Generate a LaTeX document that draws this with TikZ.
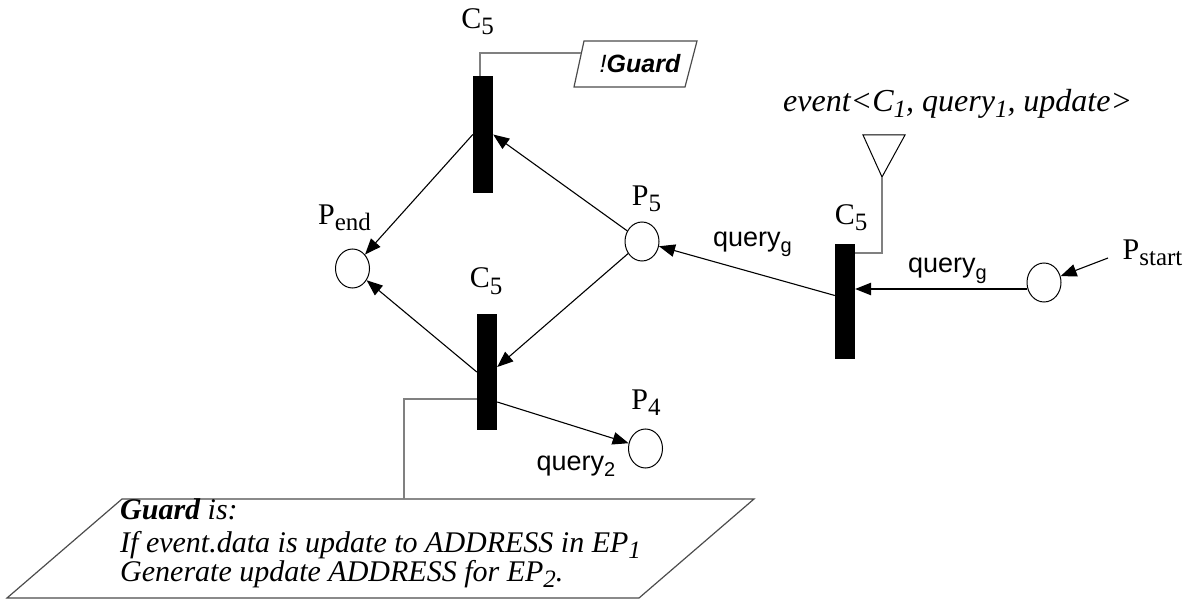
\documentclass[tikz,border=0pt]{standalone}
\usepackage{fontspec}
\setmainfont{Liberation Serif}
\setsansfont{Liberation Sans}
\usepackage{graphicx}
\usetikzlibrary{arrows.meta,calc,shapes.geometric}
\newcommand\lo[2]{\raisebox{-6pt}{\fontsize{#1}{#1}\selectfont #2}}
\begin{document}
\begin{tikzpicture}[x=1pt,y=-1pt,
  trans/.style={fill=black,draw=none,minimum width=20pt,inner sep=0pt},
  place/.style={ellipse,draw,line width=1pt,minimum width=34pt,minimum height=39pt,inner sep=0pt},
  arr/.style={line width=1.1pt,-{Triangle[length=16pt,width=12.5pt]}},
  gline/.style={draw=gray,line width=1.2pt},
  gbox/.style={draw=black!70,line width=1.2pt},
  lbl/.style={font=\fontsize{30}{30}\selectfont,inner sep=0pt},
  slbl/.style={font=\sffamily\fontsize{27}{27}\selectfont,inner sep=0pt},
  gtxt/.style={font=\itshape\fontsize{30}{30}\selectfont,inner sep=0pt,anchor=base west}]
\useasboundingbox (0,0) rectangle (1190,601);

% transitions and places
\node[trans,minimum height=117pt] (T1) at (483,134.5) {};
\node[trans,minimum height=116pt] (T2) at (487,372) {};
\node[trans,minimum height=115pt] (T3) at (845,301.5) {};
\node[place] (Pend) at (352.5,268.5) {};
\node[place] (P5) at (642,241.5) {};
\node[place] (P4) at (645.5,448.5) {};
\node[place] (Ps) at (1044,282.5) {};

% labels
\node[lbl,anchor=base] (lT1) at (477.5,29) {C\lo{25}{5}};
\node[lbl,anchor=base] (lT2) at (486,288) {C\lo{25}{5}};
\node[lbl,anchor=base] (lT3) at (851,225) {C\lo{25}{5}};
\node[lbl,anchor=base] (lPend) at (344.5,225) {P\lo{25}{end}};
\node[lbl,anchor=base] (lP5) at (646.5,206) {P\lo{25}{5}};
\node[lbl,anchor=base] (lP4) at (646,409) {P\lo{25}{4}};
\node[lbl,anchor=base] (lPs) at (1152.5,260) {P\lo{25}{start}};
\node[slbl,anchor=base] (q1) at (752.5,246.5) {query\lo{20}{g}};
\node[slbl,anchor=base] (q2) at (947.5,273) {query\lo{20}{g}};
\node[slbl,anchor=base] (q3) at (576,470) {query\lo{20}{2}};
\node[lbl,anchor=base west,font=\itshape\fontsize{32}{32}\selectfont] (ev) at (783,112)
  {event<C\lo{25}{1}, query\lo{25}{1}, update>};

% event triangle
\draw[line width=1pt] (863,135) -- (905,135) -- (882,177) -- cycle;
\coordinate (tri) at (882,177);

% !Guard box
\draw[gbox] (584,41) -- (697,41) -- (685,87) -- (574,87) -- cycle;
\coordinate (G1l) at (581.4,53);
\node[inner sep=0pt,anchor=base,font=\sffamily\itshape\fontsize{25}{25}\selectfont] (g1) at (640,73)
  {!\textbf{Guard}};

% Guard box
\draw[gbox] (122,499) -- (754,499) -- (639,598) -- (7,598) -- cycle;
\coordinate (G2t) at (404,499);
\node[gtxt] (gl1) at (120,519) {\textbf{Guard} is:};
\node[gtxt] (gl2) at (120,552) {If event.data is update to ADDRESS in EP\lo{25}{1}};
\node[gtxt] (gl3) at (120,581) {Generate update ADDRESS for EP\lo{25}{2}.};

% gray connectors
\draw[gline] ([xshift=-3pt]T1.north) |- (G1l);
\draw[gline] ([yshift=-27pt]T2.west) -| (G2t);
\draw[gline] (tri) |- ([yshift=48.5pt]T3.east);

% arcs
\draw[arr] (T1.west) -- (Pend);
\draw[arr] (P5) -- (T1.east);
\draw[arr] (P5) -- ([yshift=5pt]T2.east);
\draw[arr] (T2.west) -- (Pend);
\draw[arr] ([yshift=-30pt]T2.east) -- (P4);
\draw[arr] ([yshift=6pt]T3.west) -- (P5);
\draw[arr] ([yshift=-6.5pt]Ps.west) -- ([yshift=-6.5pt]Ps.west -| T3.east);
\coordinate (psl) at (1108,258);
\draw[arr] (psl) -- (Ps);
\end{tikzpicture}
\end{document}
